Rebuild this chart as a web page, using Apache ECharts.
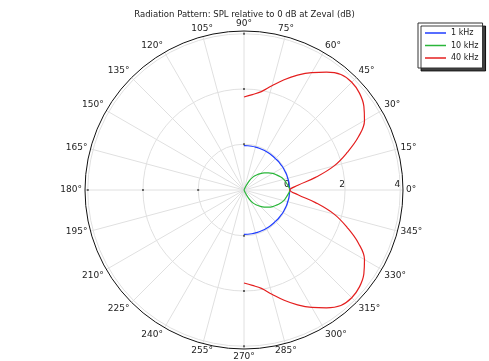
<!DOCTYPE html>
<html>
<head>
<meta charset="utf-8">
<script src="https://cdn.jsdelivr.net/npm/echarts@6/dist/echarts.min.js"></script>
<style>html,body{margin:0;padding:0;background:#fff;}#c{width:489px;height:361px;}</style>
</head>
<body>
<div id="c"></div>
<script>
// Angles (degrees), front half, 0 = on-axis; pattern is symmetric (negative side mirrored)
var angles = [0, 5, 10, 15, 20, 25, 30, 35, 40, 45, 50, 55, 60, 65, 70, 75, 80, 85, 90];
// SPL relative to on-axis (dB)
var spl1k  = [0, -0.01, -0.01, -0.02, -0.02, -0.03, -0.03, -0.04, -0.04, -0.05, -0.05, -0.05, -0.05, -0.05, -0.05, -0.05, -0.05, -0.05, -0.05];
var spl10k = [0, -0.05, -0.11, -0.17, -0.26, -0.36, -0.46, -0.58, -0.70, -0.82, -0.95, -1.08, -1.28, -1.55, -1.66, -1.66, -1.66, -1.66, -1.66];
var spl40k = [0, 0.30, 0.97, 1.72, 2.32, 2.92, 3.38, 3.64, 3.80, 3.86, 3.80, 3.55, 3.25, 2.93, 2.59, 2.25, 1.96, 1.81, 1.71];
var seriesNames = ['1 kHz', '10 kHz', '40 kHz'];
var seriesColors = ['#1f3dff', '#2ab63a', '#e41f1f'];
var radialTicks = [0, 2, 4];
var tickAngles = [90, 180, 270];
var rMin = -1.66, rMax = 4.1;
var titleText = 'Radiation Pattern: SPL relative to 0 dB at Zeval (dB)';

function buildData(vals) {
  var out = [];
  for (var i = angles.length - 1; i > 0; i--) out.push([vals[i], 360 - angles[i]]);
  for (var j = 0; j < angles.length; j++) out.push([vals[j], angles[j]]);
  return out;
}
var tickMarks = [];
tickAngles.forEach(function (a) { radialTicks.forEach(function (r) { tickMarks.push([r, a]); }); });
var allVals = [spl1k, spl10k, spl40k];
var FONT = 'DejaVu Sans';
var chart = echarts.init(document.getElementById('c'), null, {renderer: 'canvas'});
var series = seriesNames.map(function (n, k) {
  return {
    name: n, type: 'line', coordinateSystem: 'polar',
    data: buildData(allVals[k]), symbol: 'none', smooth: 0.4,
    lineStyle: {color: seriesColors[k], width: 1.2}, itemStyle: {color: seriesColors[k]}
  };
});
series.unshift({
  name: 'ticks', type: 'scatter', coordinateSystem: 'polar', silent: true,
  data: tickMarks, symbol: 'rect', symbolSize: 2, itemStyle: {color: '#444'}
});
chart.setOption({
  animation: false,
  title: {
    text: titleText, left: 'center', top: 5,
    textStyle: {fontFamily: FONT, fontSize: 8.5, fontWeight: 'normal', color: '#222'}
  },
  legend: {
    orient: 'vertical', left: 418, top: 23,
    data: seriesNames,
    icon: 'rect', itemWidth: 21, itemHeight: 1.5,
    itemGap: 4.5, padding: [6, 4, 6, 7],
    borderColor: '#333', borderWidth: 1, backgroundColor: '#fff',
    shadowColor: 'rgba(0,0,0,0.75)', shadowOffsetX: 3, shadowOffsetY: 3, shadowBlur: 0.01,
    textStyle: {fontFamily: FONT, fontSize: 8, color: '#222'}
  },
  polar: {center: [244, 190], radius: 159},
  angleAxis: {
    type: 'value', min: 0, max: 360, interval: 15, startAngle: 0, clockwise: false,
    axisLine: {lineStyle: {color: '#111', width: 1}},
    axisTick: {show: false},
    axisLabel: {formatter: '{value}°', fontFamily: FONT, fontSize: 9, color: '#222', margin: 3},
    splitLine: {show: true, lineStyle: {color: '#e0e0e0', width: 1}}
  },
  radiusAxis: {
    type: 'value', min: rMin, max: rMax,
    axisLine: {show: false},
    axisTick: {show: false, customValues: radialTicks},
    axisLabel: {customValues: radialTicks, fontFamily: FONT, fontSize: 9, color: '#222', margin: 1, align: 'right', verticalAlign: 'bottom'},
    splitLine: {show: true, lineStyle: {color: '#e0e0e0', width: 1}}
  },
  series: series
});
</script>
</body>
</html>
